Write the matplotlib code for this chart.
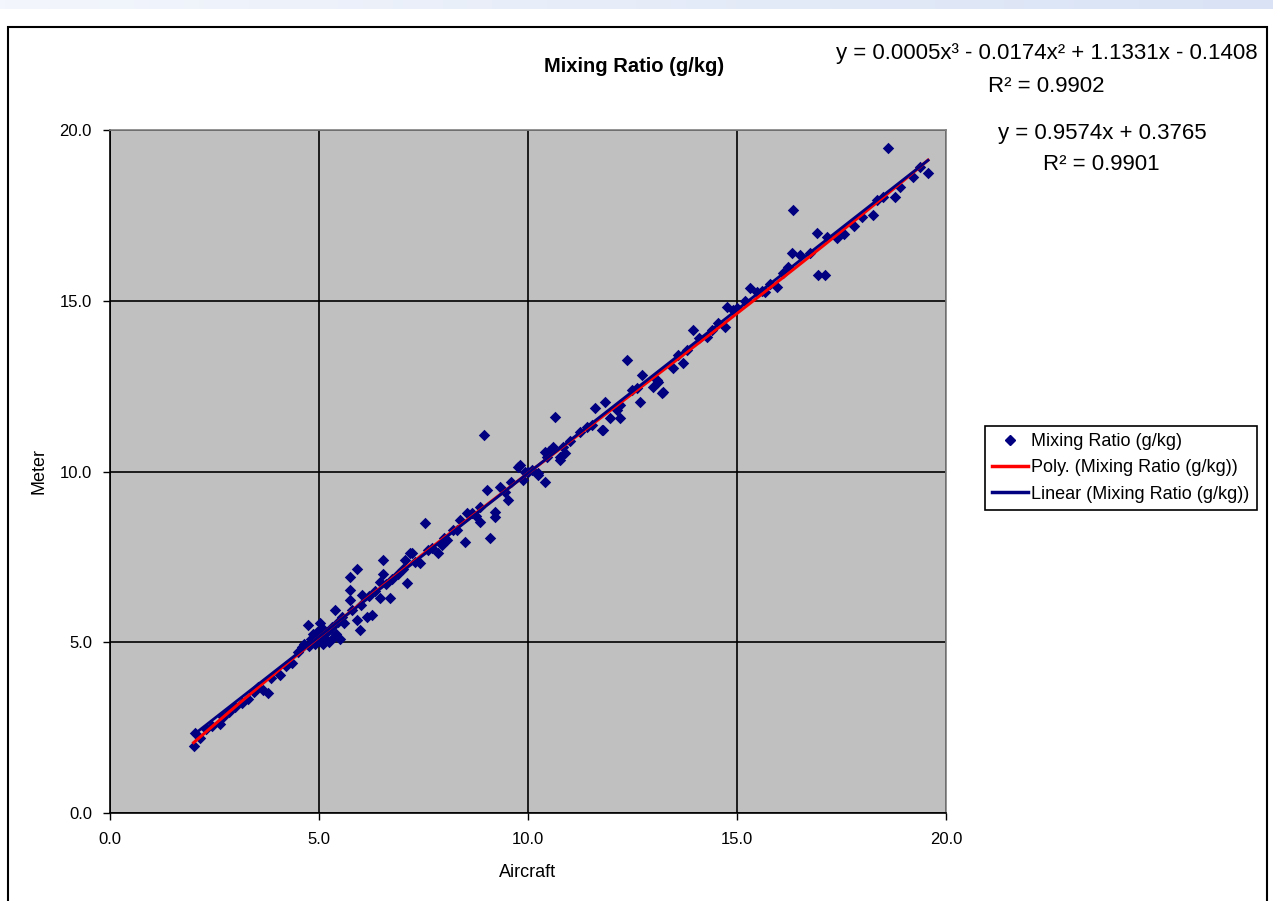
import numpy as np
import matplotlib
matplotlib.use("Agg")
import matplotlib.pyplot as plt
from matplotlib.patches import Rectangle
from matplotlib.lines import Line2D
from matplotlib.colors import LinearSegmentedColormap

plt.rcParams['font.family'] = ['Liberation Sans', 'DejaVu Sans']

# ---- data (Aircraft vs Meter mixing ratio, g/kg) ----
aircraft = [
    2.00, 2.03, 2.15, 2.30, 2.45, 2.63, 2.70, 2.85, 3.00, 3.15, 3.30, 3.45, 3.55, 3.66, 3.78, 3.85,
    4.07, 4.20, 4.35, 4.50, 4.60, 4.65, 4.74, 4.75,
    4.80, 4.85, 4.90, 4.95, 5.00, 5.02, 5.05, 5.10, 5.10, 5.15, 5.20, 5.25, 5.30, 5.35, 5.38, 5.40,
    5.45, 5.50, 5.55, 5.60,
    5.74, 5.90, 5.74, 5.74, 6.03, 5.90, 5.98, 6.15, 6.27, 6.46, 6.70, 6.53, 6.53, 6.46, 7.10, 7.22,
    5.80, 6.00, 6.20, 6.35, 6.60, 6.75, 6.90, 7.00, 7.05, 7.18, 7.30, 7.42, 7.54, 7.60, 7.85, 7.70,
    8.06, 8.20, 8.30, 8.37, 8.49, 8.54, 8.66, 8.75, 8.85, 8.85, 8.95, 9.02, 9.09, 9.21, 9.21, 9.33,
    9.45, 9.52, 9.60, 9.76, 9.81, 9.88, 9.93, 10.00, 8.00, 7.95,
    10.10, 10.24, 10.24, 10.41, 10.41, 10.45, 10.50, 10.60, 10.65, 10.77, 10.77, 10.84, 10.89, 11.00,
    11.24, 11.40, 11.53, 11.60, 11.77, 11.80, 11.84, 11.96, 12.13, 12.20, 12.20,
    12.37, 12.49, 12.60, 12.68, 12.73, 12.99, 13.09, 13.23, 13.11, 13.20, 13.47, 13.71, 13.60, 13.80,
    13.95, 14.10, 14.28, 14.40, 14.55, 14.71, 14.76, 14.90, 15.00,
    15.20, 15.31, 15.48, 15.60, 15.67, 15.80, 15.96, 16.10, 16.22, 16.32, 16.34, 16.50, 16.75, 16.91,
    16.94, 17.10, 17.15, 17.39, 17.55, 17.80, 18.00, 18.25, 18.35, 18.49, 18.61, 18.78, 18.90, 19.21,
    19.38, 19.57,
]
meter = [
    1.95, 2.34, 2.20, 2.45, 2.55, 2.60, 2.80, 2.95, 3.10, 3.22, 3.35, 3.55, 3.70, 3.60, 3.51, 3.95,
    4.04, 4.30, 4.40, 4.70, 4.85, 4.95, 5.50, 4.90,
    5.10, 5.25, 4.95, 5.30, 5.05, 5.56, 5.20, 4.95, 5.40, 5.10, 5.30, 5.00, 5.45, 5.15, 5.94, 5.25,
    5.60, 5.10, 5.75, 5.55,
    6.91, 7.14, 6.53, 6.24, 6.38, 5.65, 5.36, 5.74, 5.80, 6.30, 6.30, 7.40, 7.00, 6.76, 6.73, 7.60,
    5.95, 6.10, 6.35, 6.50, 6.70, 6.85, 7.00, 7.15, 7.40, 7.61, 7.35, 7.32, 8.49, 7.70, 7.61, 7.75,
    7.99, 8.29, 8.29, 8.58, 7.94, 8.78, 8.78, 8.70, 8.96, 8.52, 11.07, 9.46, 8.05, 8.81, 8.67, 9.55,
    9.40, 9.17, 9.70, 10.13, 10.19, 9.75, 9.99, 10.00, 8.05, 7.85,
    10.05, 9.96, 9.90, 9.69, 10.57, 10.42, 10.60, 10.72, 11.60, 10.42, 10.34, 10.72, 10.54, 10.90,
    11.16, 11.30, 11.36, 11.86, 11.21, 11.21, 12.04, 11.57, 11.80, 11.95, 11.57,
    13.26, 12.39, 12.45, 12.04, 12.83, 12.47, 12.68, 12.33, 12.62, 12.30, 13.03, 13.18, 13.40, 13.55,
    14.14, 13.90, 13.94, 14.15, 14.35, 14.23, 14.82, 14.73, 14.80,
    15.00, 15.37, 15.26, 15.30, 15.26, 15.50, 15.40, 15.80, 15.99, 16.40, 17.66, 16.34, 16.40, 16.98,
    15.75, 15.75, 16.87, 16.84, 16.95, 17.20, 17.45, 17.51, 17.95, 18.04, 19.47, 18.04, 18.33, 18.62,
    18.92, 18.74,
]

poly_coef = [0.0005, -0.0174, 1.1331, -0.1408]
lin_coef = [0.9574, 0.3765]

title = "Mixing Ratio (g/kg)"
poly_eq = "y = 0.0005x³ - 0.0174x² + 1.1331x - 0.1408"
poly_r2 = "R² = 0.9902"
lin_eq = "y = 0.9574x + 0.3765"
lin_r2 = "R² = 0.9901"
xticks = [0, 5, 10, 15, 20]
yticks = [0, 5, 10, 15, 20]

W, H = 1273, 901
fig = plt.figure(figsize=(W / 100, H / 100), dpi=100)
fig.patch.set_facecolor('white')

def fx(px):
    return px / W

def fy(py):
    return 1 - py / H

# top gradient band
gax = fig.add_axes([0, fy(9), 1, 9 / H])
grad = np.linspace(0, 1, 256).reshape(1, -1)
cmap = LinearSegmentedColormap.from_list('g', ['#f3f6fc', '#d9e3f5'])
gax.imshow(grad, aspect='auto', cmap=cmap, extent=[0, 1, 0, 1])
gax.axis('off')

# chart outer border
fig.patches.append(Rectangle((fx(8), fy(905)), fx(1267) - fx(8), fy(27) - fy(905),
                             transform=fig.transFigure, fill=False, edgecolor='black', lw=1.5))

ax = fig.add_axes([fx(110), fy(813), fx(946) - fx(110), fy(130) - fy(813)])
ax.set_facecolor('#c0c0c0')
ax.set_xlim(0, 20)
ax.set_ylim(0, 20)
ax.set_xticks(xticks)
ax.set_yticks(yticks)
ax.set_xticklabels([f"{v:.1f}" for v in xticks], fontsize=12)
ax.set_yticklabels([f"{v:.1f}" for v in yticks], fontsize=12)
ax.tick_params(direction='out', length=5, width=1, color='black')
ax.tick_params(axis='x', pad=9)
ax.tick_params(axis='y', pad=8)
ax.grid(True, color='black', lw=1.2)
ax.set_axisbelow(True)
for s in ['top', 'right']:
    ax.spines[s].set_color('#808080')
    ax.spines[s].set_linewidth(1.2)
for s in ['left', 'bottom']:
    ax.spines[s].set_color('black')
    ax.spines[s].set_linewidth(1.2)

ax.scatter(aircraft, meter, marker='D', s=34, color='#000080', zorder=3, linewidths=0)

xs = np.linspace(min(aircraft), max(aircraft), 200)
ax.plot(xs, np.polyval(poly_coef, xs), color='#ff0000', lw=2.2, zorder=4)
ax.plot(xs, np.polyval(lin_coef, xs), color='#000080', lw=2.0, zorder=5)

ax.set_xlabel("Aircraft", fontsize=13, labelpad=12)
ax.set_ylabel("Meter", fontsize=13, labelpad=9)

fig.text(fx(634), fy(66), title, fontsize=14.5, fontweight='bold', ha='center', va='center')
fig.text(fx(1258), fy(54), poly_eq, fontsize=16, ha='right', va='center')
fig.text(fx(1046), fy(87), poly_r2, fontsize=16, ha='center', va='center')
fig.text(fx(1102), fy(133), lin_eq, fontsize=16, ha='center', va='center')
fig.text(fx(1101), fy(165), lin_r2, fontsize=16, ha='center', va='center')

handles = [
    Line2D([], [], marker='D', color='#000080', ls='none', markersize=5),
    Line2D([], [], color='#ff0000', lw=2.5),
    Line2D([], [], color='#000080', lw=2.5),
]
labels = ["Mixing Ratio (g/kg)", "Poly. (Mixing Ratio (g/kg))", "Linear (Mixing Ratio (g/kg))"]
leg = fig.legend(handles, labels, loc='center left', bbox_to_anchor=(fx(985), fy(468)),
                 bbox_transform=fig.transFigure, fontsize=13, frameon=True, fancybox=False,
                 framealpha=1, edgecolor='black', borderaxespad=0, borderpad=0.4,
                 handlelength=2.0, handletextpad=0.15, labelspacing=0.5)
leg.get_frame().set_linewidth(1.2)

fig.savefig("out.png", dpi=100)
